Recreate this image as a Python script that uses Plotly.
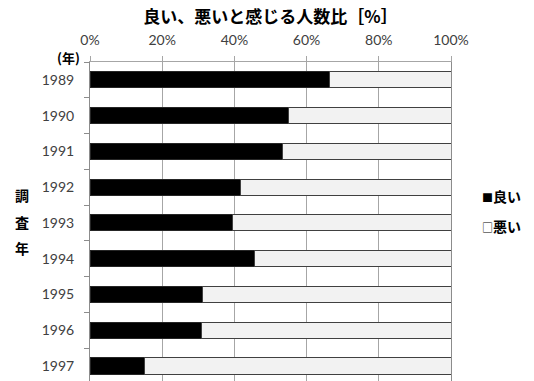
import plotly.graph_objects as go

years = ["1989", "1990", "1991", "1992", "1993", "1994", "1995", "1996", "1997"]
good = [66.4, 55.1, 53.2, 41.6, 39.6, 45.6, 31.3, 30.8, 15.0]
bad = [round(100 - g, 1) for g in good]
series_names = ["良い", "悪い"]
title_text = "良い、悪いと感じる人数比［%］"
x_ticks = [0, 0.2, 0.4, 0.6, 0.8, 1.0]

W, H = 534, 381
L, R, T, B = 90, 82.5, 62, 0
pw, ph = W - L - R, H - T - B

def px_x(px):
    return (px - L) / pw

def px_y(py):
    return (H - B - py) / ph

CJK = "'Noto Sans CJK JP', sans-serif"
NUM = "Lato, 'Noto Sans CJK JP', sans-serif"

fig = go.Figure()
fig.add_trace(go.Bar(
    y=years, x=[g / 100 for g in good], orientation="h", name=series_names[0],
    marker=dict(color="#000000", line=dict(color="#262626", width=1)),
    width=0.45, showlegend=False,
))
fig.add_trace(go.Bar(
    y=years, x=[b / 100 for b in bad], orientation="h", name=series_names[1],
    marker=dict(color="#f2f2f2", line=dict(color="#404040", width=1)),
    width=0.45, showlegend=False,
))

fig.update_layout(
    width=W, height=H,
    margin=dict(l=L, r=R, t=T, b=B, pad=0),
    barmode="stack",
    plot_bgcolor="white", paper_bgcolor="white",
    title=dict(text="<b>" + title_text + "</b>", x=px_x(270.75), xref="paper",
               y=1 - 17 / H, yref="container", xanchor="center", yanchor="middle",
               font=dict(family=CJK, size=17, color="#000000")),
    xaxis=dict(side="top", range=[0, 1], tickvals=x_ticks, tickformat=".0%",
               showgrid=True, gridcolor="#a6a6a6", gridwidth=1,
               showline=True, linecolor="#a6a6a6", linewidth=1,
               ticks="outside", ticklen=5, tickcolor="#a6a6a6",
               ticklabelstandoff=5,
               tickfont=dict(family=NUM, size=14, color="#404040"),
               zeroline=False, fixedrange=True),
    yaxis=dict(type="category", categoryorder="array", categoryarray=years,
               range=[8 + 15 / 35.75, -0.5], tickson="boundaries",
               showgrid=False, showline=True, linecolor="#8c8c8c", linewidth=1,
               mirror=True,
               ticks="outside", ticklen=5, tickcolor="#8c8c8c",
               ticklabelstandoff=12,
               tickfont=dict(family=NUM, size=14, color="#404040"),
               fixedrange=True),
)

ann = []
ann.append(dict(text="<b>(年)</b>", x=px_x(68), y=px_y(57), xref="paper", yref="paper",
                showarrow=False, xanchor="center", yanchor="middle",
                font=dict(family=CJK, size=13, color="#000000")))
for ch, py in zip("調査年", [195, 222, 248]):
    ann.append(dict(text="<b>" + ch + "</b>", x=px_x(22), y=px_y(py), xref="paper", yref="paper",
                    showarrow=False, xanchor="center", yanchor="middle",
                    font=dict(family=CJK, size=14, color="#000000")))
for sym, name, py in zip(["■", "□"], series_names, [196, 226]):
    ann.append(dict(text="<span style='font-size:11px'>" + sym + "</span><b>" + name + "</b>",
                    x=px_x(481), y=px_y(py), xref="paper", yref="paper",
                    showarrow=False, xanchor="left", yanchor="middle",
                    font=dict(family=CJK, size=14, color="#000000")))
fig.update_layout(annotations=ann)

fig.write_html("out.html")
